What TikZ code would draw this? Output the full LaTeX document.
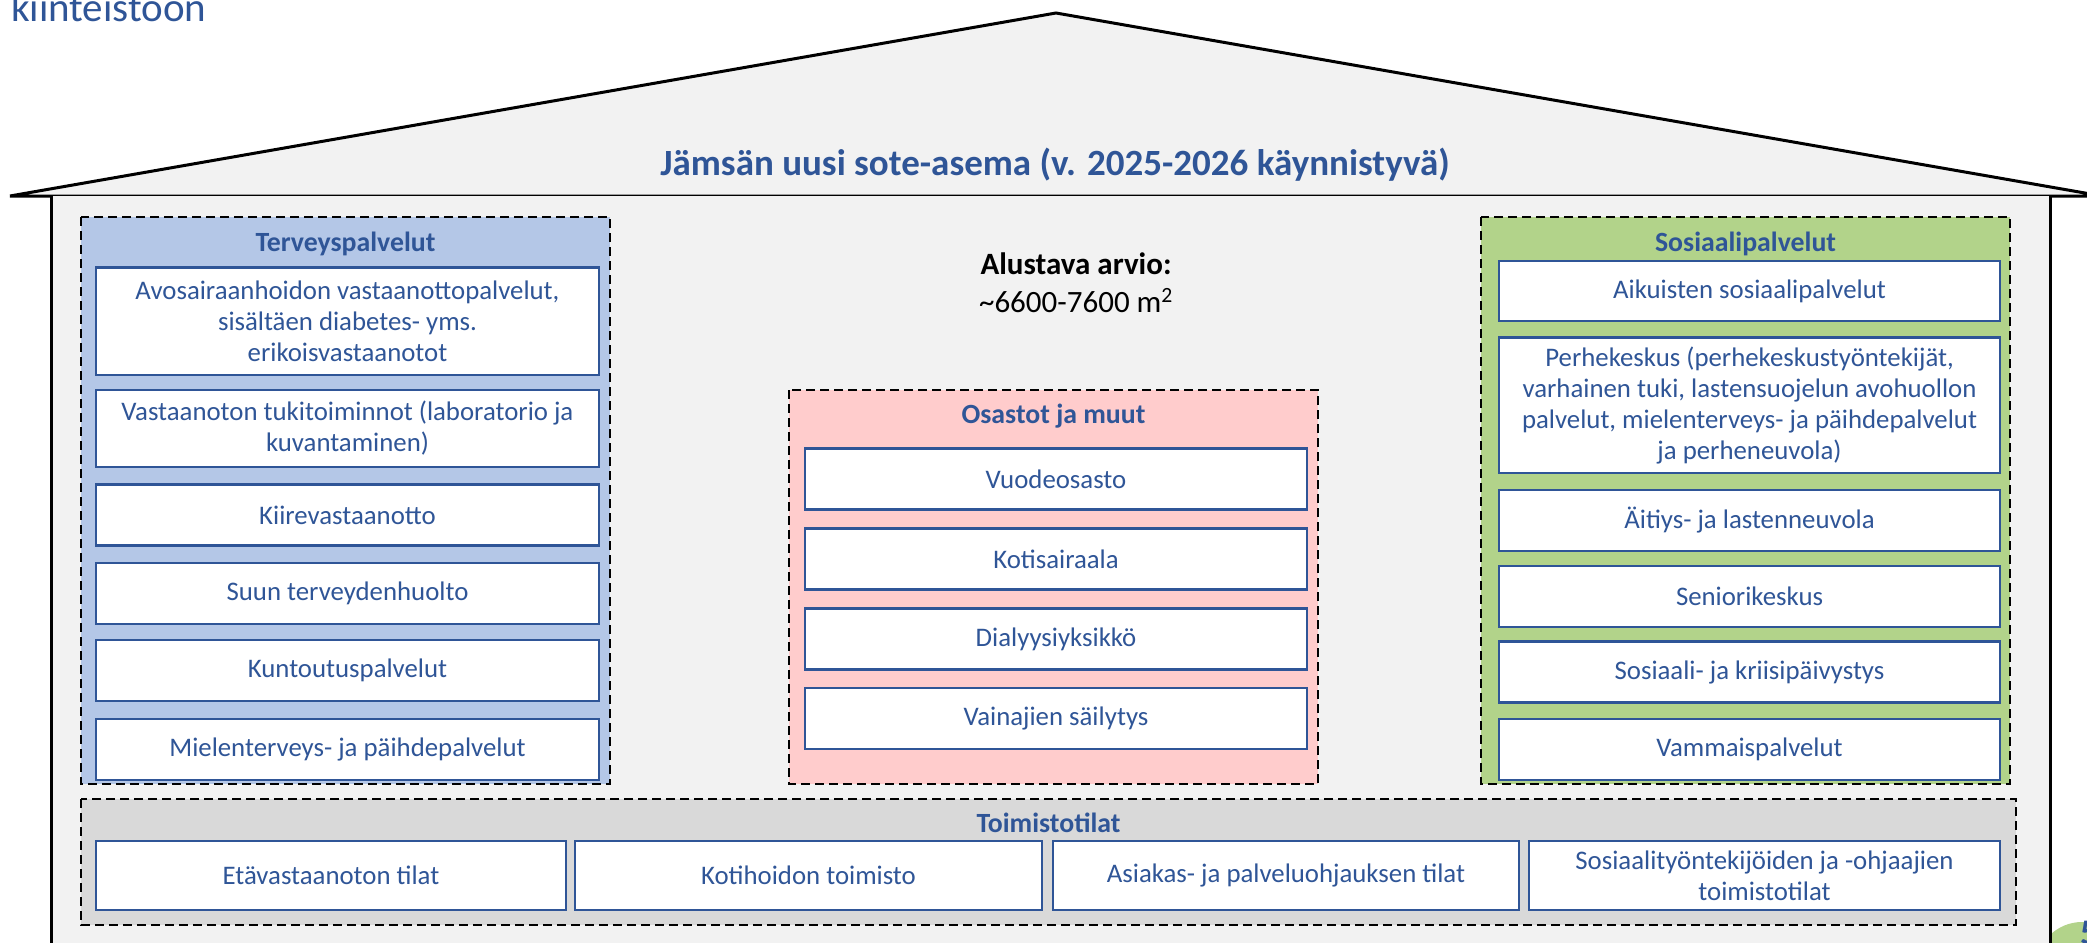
\documentclass[tikz,border=0pt]{standalone}
\usepackage{fontspec}
\setmainfont{Carlito}
\definecolor{svcblue}{HTML}{2F5597}
\definecolor{housegray}{HTML}{F2F2F2}
\definecolor{grpblue}{HTML}{B4C7E7}
\definecolor{grppink}{HTML}{FFCCCC}
\definecolor{grpgreen}{HTML}{B2D38A}
\definecolor{grpgray}{HTML}{D9D9D9}
\tikzset{every picture/.style={line width=2pt},
  houseline/.style={line width=3pt, line join=miter},
  grpbox/.style={draw=black, line width=2pt, dash pattern={on 9pt off 5pt}},
  grptitle/.style={text=svcblue, inner sep=0pt, font=\fontsize{27.8}{32}\selectfont\bfseries},
  svcbox/.style={draw=svcblue, line width=2.5pt, fill=white, text=svcblue, align=center, inner sep=0pt, font=\fontsize{26.8}{31}\selectfont}}

\begin{document}
\begin{tikzpicture}[x=1pt,y=1pt,yscale=-1,xscale=1]
	\clip (0,0) rectangle (2087,942);
	
	%Shape: Circle (page corner)
	\fill[grpgreen] (2082,968) circle (46);
	%Shape: Roof
	\draw[houseline, fill=housegray] (10,196) -- (1056,13) -- (2102,196) -- cycle;
	%Shape: House body
	\draw[houseline, fill=housegray] (51,196) -- (51,960) -- (2050,960) -- (2050,196);
	
	% Text Node
	\node[anchor=base west, inner sep=0pt, text=svcblue, font=\fontsize{41}{49}\selectfont] (otsikko0) at (10,22) {kiinteistöön};
	% Text Node
	\node[anchor=base west, inner sep=0pt, text=svcblue, font=\fontsize{36}{40}\selectfont\bfseries] (sivu) at (2079,944) {5};
	% Text Node
	\node[text=svcblue, inner sep=0pt, font=\fontsize{37}{42}\selectfont\bfseries] (otsikko) at (1055,165) {Jämsän uusi sote-asema (v. 2025-2026 käynnistyvä)};
	
	%Shape: Rectangle [Terveyspalvelut]
	\draw[grpbox, fill=grpblue] (81,217) rectangle (610,784);
	\node[grptitle] (terv) at (345.5,244) {Terveyspalvelut};
	\node[svcbox, minimum width=503pt, minimum height=107.5pt] (terv1) at (347.5,321) {Avosairaanhoidon vastaanottopalvelut,\\sisältäen diabetes- yms.\\erikoisvastaanotot};
	\node[svcbox, minimum width=503pt, minimum height=77pt] (terv2) at (347.5,428.5) {Vastaanoton tukitoiminnot (laboratorio ja\\kuvantaminen)};
	\node[svcbox, minimum width=503pt, minimum height=61pt] (terv3) at (347.5,515) {Kiirevastaanotto};
	\node[svcbox, minimum width=503pt, minimum height=61pt] (terv4) at (347.5,593.5) {Suun terveydenhuolto};
	\node[svcbox, minimum width=503pt, minimum height=61pt] (terv5) at (347.5,670.5) {Kuntoutuspalvelut};
	\node[svcbox, minimum width=503pt, minimum height=61pt] (terv6) at (347.5,749.5) {Mielenterveys- ja päihdepalvelut};
	
	% Text Node
	\node[anchor=base, inner sep=0pt, font=\fontsize{31}{36}\selectfont\bfseries] (arvio) at (1076,274) {Alustava arvio:};
	\node[anchor=base, inner sep=0pt, font=\fontsize{31}{36}\selectfont] (ala) at (1076,312) {\textasciitilde 6600-7600 m\textsuperscript{2}};
	
	%Shape: Rectangle [Osastot ja muut]
	\draw[grpbox, fill=grppink] (789,390) rectangle (1318,784);
	\node[grptitle] (osa) at (1053.5,416) {Osastot ja muut};
	\foreach \y/\nimi [count=\i] in {479/Vuodeosasto, 559/Kotisairaala, 639/Dialyysiyksikkö, 718.5/Vainajien säilytys}
	  \node[svcbox, minimum width=502pt, minimum height=61pt] (osa\i) at (1056,\y) {\nimi};
	
	%Shape: Rectangle [Sosiaalipalvelut]
	\draw[grpbox, fill=grpgreen] (1481,217) rectangle (2010,784);
	\node[grptitle] (sos) at (1745.5,244) {Sosiaalipalvelut};
	\node[svcbox, minimum width=501pt, minimum height=60pt] (sos1) at (1749.5,291) {Aikuisten sosiaalipalvelut};
	\node[svcbox, minimum width=501pt, minimum height=135.5pt] (sos2) at (1749.5,405) {Perhekeskus (perhekeskustyöntekijät,\\varhainen tuki, lastensuojelun avohuollon\\palvelut, mielenterveys- ja päihdepalvelut\\ja perheneuvola)};
	\node[svcbox, minimum width=501pt, minimum height=61pt] (sos3) at (1749.5,520.5) {Äitiys- ja lastenneuvola};
	\node[svcbox, minimum width=501pt, minimum height=61pt] (sos4) at (1749.5,596.5) {Seniorikeskus};
	\node[svcbox, minimum width=501pt, minimum height=61pt] (sos5) at (1749.5,672) {Sosiaali- ja kriisipäivystys};
	\node[svcbox, minimum width=501pt, minimum height=61pt] (sos6) at (1749.5,749.5) {Vammaispalvelut};
	
	%Shape: Rectangle [Toimistotilat]
	\draw[grpbox, fill=grpgray] (81,799) rectangle (2016,925);
	\node[grptitle] (toim) at (1048.5,823) {Toimistotilat};
	\node[svcbox, minimum width=470pt, minimum height=69pt] (toim1) at (331,875.5) {Etävastaanoton tilat};
	\node[svcbox, minimum width=467pt, minimum height=69pt] (toim2) at (808.5,875.5) {Kotihoidon toimisto};
	\node[svcbox, minimum width=466pt, minimum height=69pt] (toim3) at (1286,875.5) {Asiakas- ja palveluohjauksen tilat};
	\node[svcbox, minimum width=471pt, minimum height=69pt] (toim4) at (1764.5,875.5) {Sosiaalityöntekijöiden ja -ohjaajien\\toimistotilat};
	
\end{tikzpicture}
\end{document}
